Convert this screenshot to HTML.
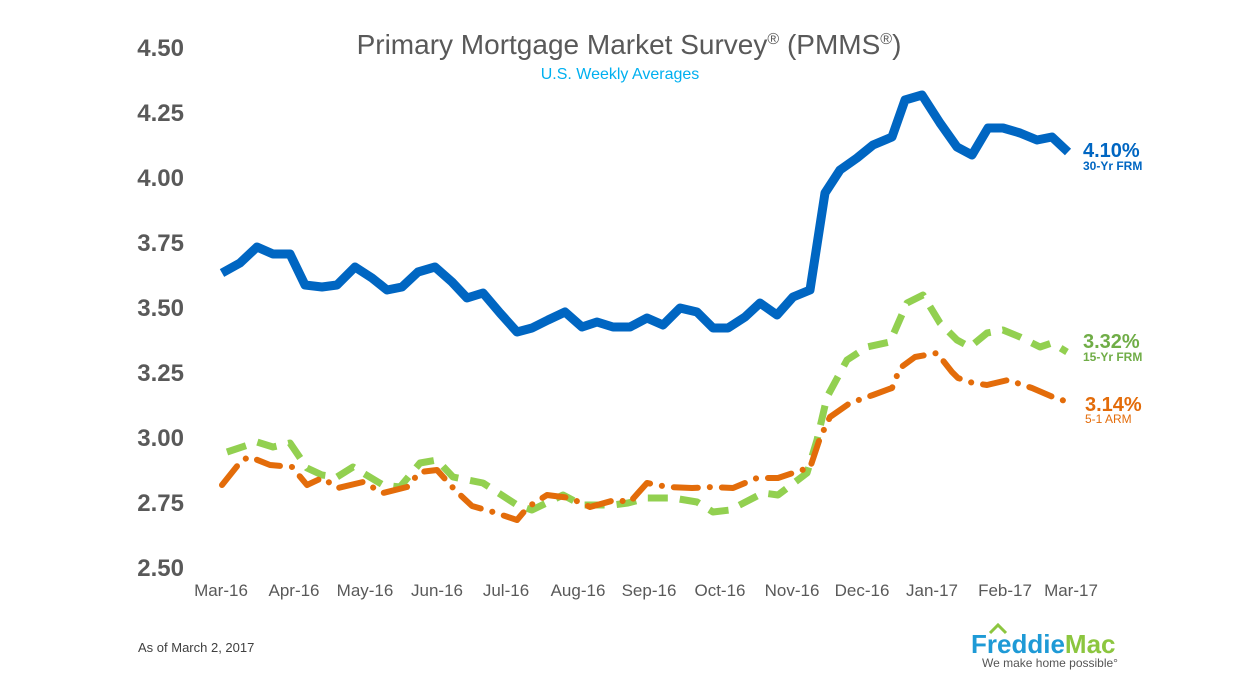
<!DOCTYPE html>
<html><head><meta charset="utf-8"><style>
body{margin:0;background:#fff;}
svg text{font-family:"Liberation Sans",Arial,sans-serif;}
</style></head><body>
<svg width="1248" height="672" viewBox="0 0 1248 672" xmlns="http://www.w3.org/2000/svg">
<rect width="1248" height="672" fill="#fff"/>
<text x="629" y="54" font-size="28" fill="#595959" text-anchor="middle">Primary Mortgage Market Survey<tspan font-size="16" dy="-10">®</tspan><tspan dy="10"> (PMMS</tspan><tspan font-size="16" dy="-10">®</tspan><tspan dy="10">)</tspan></text>
<text x="620" y="79" font-size="16" fill="#00b0f0" text-anchor="middle">U.S. Weekly Averages</text>
<g font-size="24" font-weight="bold" fill="#595959" text-anchor="end">
<text x="184" y="56">4.50</text><text x="184" y="121">4.25</text><text x="184" y="186">4.00</text>
<text x="184" y="251">3.75</text><text x="184" y="316">3.50</text><text x="184" y="381">3.25</text>
<text x="184" y="446">3.00</text><text x="184" y="511">2.75</text><text x="184" y="576">2.50</text>
</g>
<g font-size="17" fill="#595959" text-anchor="middle">
<text x="221" y="596">Mar-16</text><text x="294" y="596">Apr-16</text><text x="365" y="596">May-16</text>
<text x="437" y="596">Jun-16</text><text x="506" y="596">Jul-16</text><text x="578" y="596">Aug-16</text>
<text x="649" y="596">Sep-16</text><text x="720" y="596">Oct-16</text><text x="792" y="596">Nov-16</text>
<text x="862" y="596">Dec-16</text><text x="932" y="596">Jan-17</text><text x="1005" y="596">Feb-17</text>
<text x="1071" y="596">Mar-17</text>
</g>
<polyline fill="none" stroke="#0066c2" stroke-width="9" stroke-linejoin="round" points="222,273 240,263 257,247 273,254 290,254 305,285 322,287 337,285 355,267 372,278 387,290 402,287 418,272 435,267 452,282 467,298 483,293 500,313 517,332 532,328 548,320 565,312 582,327 597,322 613,327 630,327 647,318 663,325 680,308 697,312 713,328 728,328 745,317 760,303 777,315 793,297 810,290 825,193 840,170 857,158 873,145 892,137 905,100 922,95 940,123 957,147 972,155 988,128 1003,128 1020,133 1037,140 1052,137 1068,152"/>
<polyline fill="none" stroke="#92d050" stroke-width="7" stroke-linejoin="round" stroke-dasharray="20 12" points="227,452 257,442 273,447 290,443 307,468 322,475 337,477 353,467 383,485 400,487 420,463 437,460 453,477 483,483 517,505 532,510 563,495 582,505 613,505 628,503 647,498 673,498 697,502 713,512 730,510 763,493 778,495 807,473 817,440 827,397 847,360 867,347 890,342 907,303 923,295 940,323 957,340 970,347 987,333 1003,330 1020,337 1040,347 1052,343 1067,352"/>
<polyline fill="none" stroke="#e36c0a" stroke-width="6" stroke-linecap="round" stroke-linejoin="round" stroke-dasharray="24 12 0.1 12" points="222,485 242,460 250,457 270,465 292,467 307,485 322,478 338,488 363,482 383,493 407,487 420,472 437,470 455,490 472,506 493,512 517,520 528,507 547,495 570,498 590,507 615,500 630,502 647,483 668,487 692,488 712,487 733,488 757,478 778,478 802,470 810,468 820,438 830,417 850,403 873,395 892,388 900,368 915,357 937,353 952,372 958,378 973,383 987,385 1008,380 1032,388 1053,397 1068,402"/>
<text x="1083" y="157" font-size="20" font-weight="bold" fill="#0066c2">4.10%</text>
<text x="1083" y="170" font-size="12" font-weight="bold" fill="#0066c2">30-Yr FRM</text>
<text x="1083" y="348" font-size="20" font-weight="bold" fill="#70ad47">3.32%</text>
<text x="1083" y="361" font-size="12" font-weight="bold" fill="#70ad47">15-Yr FRM</text>
<text x="1085" y="411" font-size="20" font-weight="bold" fill="#e36c0a">3.14%</text>
<text x="1085" y="423" font-size="12" fill="#e36c0a">5-1 ARM</text>
<text x="138" y="652" font-size="13" fill="#404040">As of March 2, 2017</text>
<polyline points="990,633 998,625 1006,633" fill="none" stroke="#8cc63f" stroke-width="3"/>
<text x="971" y="653" font-size="26" font-weight="bold" fill="#1e9ad6">Freddie<tspan fill="#8cc63f">Mac</tspan></text>
<text x="982" y="667" font-size="12" fill="#555">We make home possible°</text>
</svg>
</body></html>
